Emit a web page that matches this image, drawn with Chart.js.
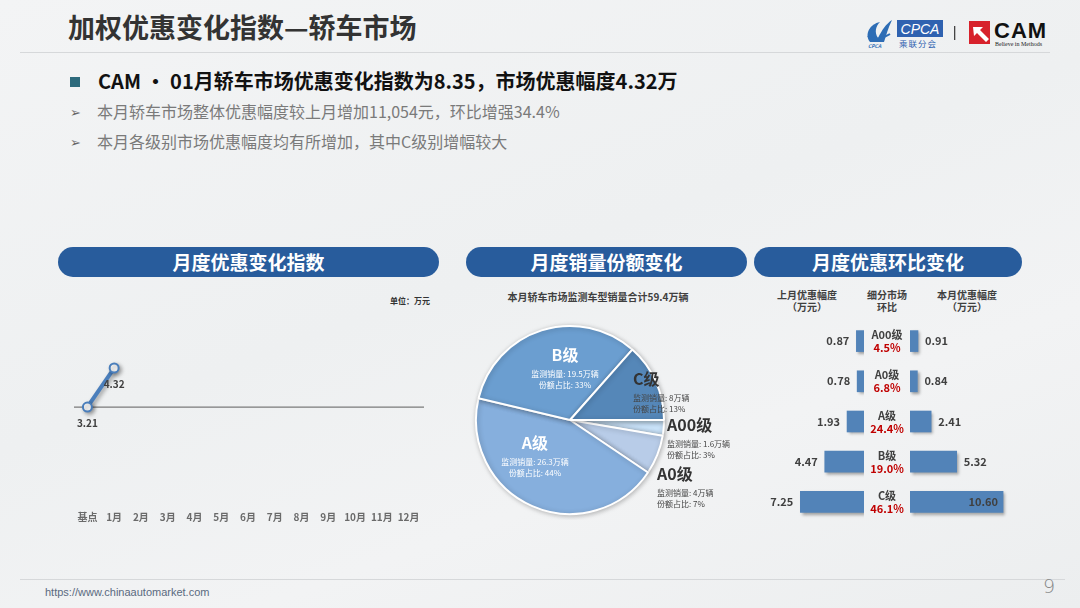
<!DOCTYPE html>
<html>
<head>
<meta charset="utf-8">
<script src="https://cdn.jsdelivr.net/npm/chart.js@4.4.1/dist/chart.umd.min.js"></script>
<style>
body{margin:0;width:1080px;height:608px;overflow:hidden;position:relative;
  font-family:"Noto Sans CJK SC","Noto Sans",sans-serif;
  background:linear-gradient(160deg,#f3f4f5 0%,#eef0f1 45%,#f2f3f4 70%,#eceeef 100%);}
.abs{position:absolute;}
.title{left:68px;top:8px;font-size:27px;font-weight:bold;color:#333;line-height:38px;}
.rule{height:1px;background:#d6d8da;}
.lead{left:98px;top:67px;font-size:20px;font-weight:bold;color:#111;line-height:28px;}
.sq{left:70px;top:77px;width:10px;height:10px;background:#2d6a7c;}
.sub{left:97px;font-size:16px;color:#7a7a7a;line-height:22px;}
.arr{left:70px;font-size:13px;color:#666;}
.pill{top:247px;height:30px;line-height:30px;border-radius:15px;background:#285c9c;color:#fff;
  font-size:19px;font-weight:bold;text-align:center;}
.small{font-size:10px;font-weight:bold;color:#404040;text-align:center;line-height:12px;}
.pl{white-space:nowrap;}
.pl .h{font-size:16px;font-weight:bold;line-height:20px;}
.pl .s{font-size:8px;line-height:11px;}
</style>
</head>
<body>
<div class="abs title">加权优惠变化指数—轿车市场</div>
<div class="abs rule" style="left:20px;top:52px;width:1030px;"></div>

<!-- logos -->
<svg class="abs" style="left:864px;top:16px;" width="200" height="34" viewBox="0 0 200 34">
  <path d="M6 26 C0 18 6 8 16 6 C12 10 10 16 14 22 C18 14 22 8 28 4 C24 12 22 20 20 26 Z" fill="#2d6db5"/>
  <path d="M4 20 C8 24 16 24 26 18" stroke="#2d6db5" stroke-width="2" fill="none"/>
  <text x="4" y="32" font-size="5" font-style="italic" fill="#2d6db5" font-weight="bold">CPCA</text>
  <rect x="33" y="4" width="46" height="17" fill="#2f62b0"/>
  <text x="56" y="17.5" text-anchor="middle" font-size="14" font-style="italic" fill="#fff" font-family="Liberation Sans">CPCA</text>
  <text x="35" y="31" font-size="8.5" fill="#2f62b0" letter-spacing="1">乘联分会</text>
  <rect x="90" y="10" width="1.3" height="14" fill="#444"/>
  <rect x="105" y="5" width="21" height="23" fill="#d7212b"/>
  <polygon points="109,11 119,11 116,14 125,23 122,26 113,17 110,20" fill="#fff"/>
  <text x="130" y="22" font-size="22" font-weight="bold" fill="#111" font-family="Liberation Sans" letter-spacing="1">CAM</text>
  <text x="131" y="30" font-size="6" fill="#222" font-family="Liberation Serif">Believe in Methods</text>
</svg>

<div class="abs sq"></div>
<div class="abs lead">CAM • 01月轿车市场优惠变化指数为8.35，市场优惠幅度4.32万</div>
<div class="abs arr" style="top:102px;">➢</div>
<div class="abs sub" style="top:100px;">本月轿车市场整体优惠幅度较上月增加11,054元，环比增强34.4%</div>
<div class="abs arr" style="top:132px;">➢</div>
<div class="abs sub" style="top:130px;">本月各级别市场优惠幅度均有所增加，其中C级别增幅较大</div>

<div class="abs pill" style="left:58px;width:381px;">月度优惠变化指数</div>
<div class="abs pill" style="left:466px;width:281px;">月度销量份额变化</div>
<div class="abs pill" style="left:754px;width:268px;">月度优惠环比变化</div>

<div class="abs" style="left:390px;top:295px;font-size:8px;font-weight:bold;color:#333;">单位：万元</div>

<div class="abs small" id="pieTitle" style="left:478px;width:240px;top:291px;"></div>

<div class="abs small" style="left:767px;width:80px;top:289px;">上月优惠幅度<br>（万元）</div>
<div class="abs small" style="left:857px;width:60px;top:289px;">细分市场<br>环比</div>
<div class="abs small" style="left:927px;width:80px;top:289px;">本月优惠幅度<br>（万元）</div>

<canvas id="line" class="abs" style="left:60px;top:290px;" width="380" height="244"></canvas>
<canvas id="pie" class="abs" style="left:470px;top:320px;" width="200" height="200"></canvas>
<div id="pieLabels"></div>
<canvas id="barL" class="abs" style="left:756px;top:321px;" width="108" height="201"></canvas>
<canvas id="barR" class="abs" style="left:866px;top:321px;" width="152" height="201"></canvas>

<div class="abs rule" style="left:20px;top:579px;width:1045px;"></div>
<div class="abs" style="left:45px;top:586px;font-size:11px;color:#5a6a80;font-family:'Liberation Sans Narrow','Liberation Sans',sans-serif;">https://www.chinaautomarket.com</div>
<div class="abs" style="left:1043px;top:575px;font-size:19px;color:#888;font-family:'DejaVu Sans';font-weight:200;">9</div>

<script>
// ---- data ----
const months = ['基点','1月','2月','3月','4月','5月','6月','7月','8月','9月','10月','11月','12月'];
const indexValues = [3.21, 4.32];

const segNames = ['A00级','A0级','A级','B级','C级'];
const segSales = [1.6, 4, 26.3, 19.5, 8];      // 万辆
const segShare = [3, 7, 44, 33, 13];           // %

const rowNames = ['A00级','A0级','A级','B级','C级'];
const lastMonth = [0.87, 0.78, 1.93, 4.47, 7.25];
const thisMonth = [0.91, 0.84, 2.41, 5.32, 10.60];
const momChange = ['4.5%','6.8%','24.4%','19.0%','46.1%'];

// ---- style ----
const FONT = '"Noto Sans CJK SC", sans-serif';
const lineBlue = '#4a7ebb';
const pieColors = ['#c8e1f7','#b8cce8','#86afdd','#6b9ed0','#5587b8'];
const barBlue = '#5283b8';
const pieLabelLayout = [
  {x:667, y:414, align:'left',  color:'#333', sub:'#444'},
  {x:657, y:463, align:'left',  color:'#333', sub:'#444'},
  {x:535, y:432, align:'center',color:'#fff', sub:'#fff'},
  {x:565, y:344, align:'center',color:'#fff', sub:'#fff'},
  {x:633, y:368, align:'left',  color:'#333', sub:'#444'}
];

Chart.defaults.font.family = FONT;
Chart.defaults.animation = false;

// ---- line chart ----
const baseLine = {
  id:'baseLine',
  beforeDatasetsDraw(chart){
    const {ctx, chartArea, scales} = chart;
    const y = scales.y.getPixelForValue(indexValues[0]);
    ctx.save();
    ctx.strokeStyle = '#7a7a7a';
    ctx.lineWidth = 1.3;
    ctx.beginPath();
    ctx.moveTo(chartArea.left, y);
    ctx.lineTo(chartArea.right + 2, y);
    ctx.stroke();
    ctx.shadowColor = 'rgba(0,0,0,0.35)';
    ctx.shadowBlur = 4;
    ctx.shadowOffsetX = 2;
    ctx.shadowOffsetY = 2;
  },
  afterDatasetsDraw(chart){
    const {ctx} = chart;
    ctx.restore();
    const meta = chart.getDatasetMeta(0);
    ctx.save();
    ctx.font = 'bold 10px ' + FONT;
    ctx.fillStyle = '#404040';
    ctx.textAlign = 'center';
    ctx.textBaseline = 'middle';
    meta.data.forEach((pt, i) => {
      if (indexValues[i] == null) return;
      ctx.fillText(indexValues[i].toFixed(2), pt.x, pt.y + 16);
    });
    ctx.restore();
  }
};

new Chart(document.getElementById('line'), {
  type:'line',
  data:{
    labels: months,
    datasets:[{
      data: months.map((m, i) => indexValues[i] ?? null),
      borderColor: lineBlue,
      borderWidth: 4,
      pointRadius: 4.5,
      pointBackgroundColor:'#fff',
      pointBorderColor: lineBlue,
      pointBorderWidth: 2,
      spanGaps:false,
      tension:0
    }]
  },
  options:{
    responsive:false,
    layout:{padding:{left:14, right:18, top:0, bottom:6}},
    plugins:{legend:{display:false}, tooltip:{enabled:false}},
    scales:{
      x:{offset:true, grid:{display:false}, border:{display:false},
         ticks:{color:'#6a6a6a', font:{size:10, weight:'bold'}, padding:5, maxRotation:0, autoSkip:false}},
      y:{display:false, min:0.63, max:6.35}
    }
  },
  plugins:[baseLine]
});

// ---- pie chart ----
const total = segSales.reduce((a, b) => a + b, 0);
document.getElementById('pieTitle').textContent = '本月轿车市场监测车型销量合计' + total.toFixed(1) + '万辆';

const pieShadow = {
  id:'pieShadow',
  beforeDatasetsDraw(chart){
    const ctx = chart.ctx;
    ctx.save();
    ctx.shadowColor = 'rgba(0,0,0,0.25)';
    ctx.shadowBlur = 5;
    ctx.shadowOffsetX = 1;
    ctx.shadowOffsetY = 1;
  },
  afterDatasetsDraw(chart){ chart.ctx.restore(); }
};

new Chart(document.getElementById('pie'), {
  type:'pie',
  data:{
    labels: segNames,
    datasets:[{
      data: segSales,
      backgroundColor: pieColors,
      borderColor:'#fff',
      borderWidth:2
    }]
  },
  options:{
    responsive:false,
    rotation:90,
    layout:{padding:5},
    plugins:{legend:{display:false}, tooltip:{enabled:false}}
  },
  plugins:[pieShadow]
});

let html = '';
segNames.forEach((n, i) => {
  const p = pieLabelLayout[i];
  const left = p.align === 'center' ? p.x - 60 : p.x;
  const w = p.align === 'center' ? 'width:120px;' : '';
  html += '<div class="abs pl" style="left:' + left + 'px;top:' + p.y + 'px;' + w + 'text-align:' + p.align + ';">' +
    '<div class="h" style="color:' + p.color + '">' + n + '</div>' +
    '<div class="s" style="color:' + p.sub + ';margin-top:4px">监测销量: ' + segSales[i] + '万辆</div>' +
    '<div class="s" style="color:' + p.sub + '">份额占比: ' + segShare[i] + '%</div></div>';
});
document.getElementById('pieLabels').innerHTML = html;

// ---- mirrored bars ----
const barMax = 12.3;

function barLabels(side){
  return {
    id:'barLabels' + side,
    beforeDatasetsDraw(chart){
      const ctx = chart.ctx;
      ctx.save();
      ctx.shadowColor = 'rgba(0,0,0,0.35)';
      ctx.shadowBlur = 3;
      ctx.shadowOffsetX = 2;
      ctx.shadowOffsetY = 2;
    },
    afterDatasetsDraw(chart){
      const {ctx, chartArea, scales} = chart;
      ctx.restore();
      const vals = chart.data.datasets[0].data;
      ctx.save();
      ctx.font = 'bold 11px ' + FONT;
      ctx.fillStyle = '#404040';
      ctx.textBaseline = 'middle';
      vals.forEach((v, i) => {
        const y = scales.y.getPixelForValue(i);
        const end = scales.x.getPixelForValue(v);
        const txt = v.toFixed(2);
        const w = ctx.measureText(txt).width;
        if (side === 'L') {
          ctx.textAlign = 'right';
          ctx.fillText(txt, end - 7, y);
        } else if (end + 7 + w > chartArea.right) {
          ctx.textAlign = 'right';
          ctx.fillText(txt, end - 5, y);
        } else {
          ctx.textAlign = 'left';
          ctx.fillText(txt, end + 7, y);
        }
      });
      if (side === 'R') {
        ctx.textAlign = 'center';
        const cx = chartArea.left - 23;
        rowNames.forEach((n, i) => {
          const y = scales.y.getPixelForValue(i);
          ctx.font = 'bold 11px ' + FONT;
          ctx.fillStyle = '#404040';
          ctx.fillText(n, cx, y - 6);
          ctx.fillStyle = '#c00000';
          ctx.fillText(momChange[i], cx, y + 7);
        });
      }
      ctx.restore();
    }
  };
}

function barChart(id, values, side){
  return new Chart(document.getElementById(id), {
    type:'bar',
    data:{labels: rowNames, datasets:[{data: values, backgroundColor: barBlue, barThickness:21}]},
    options:{
      indexAxis:'y',
      responsive:false,
      layout:{padding: side === 'R' ? {left:44} : 0},
      plugins:{legend:{display:false}, tooltip:{enabled:false}},
      scales:{
        x:{display:false, min:0, max:barMax, reverse: side === 'L'},
        y:{display:false}
      }
    },
    plugins:[barLabels(side)]
  });
}
barChart('barL', lastMonth, 'L');
barChart('barR', thisMonth, 'R');
</script>
</body>
</html>
